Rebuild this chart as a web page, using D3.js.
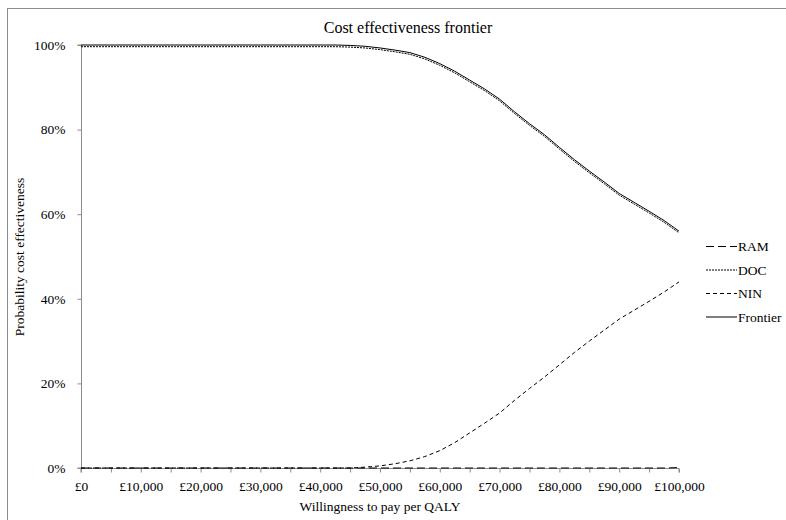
<!DOCTYPE html>
<html><head><meta charset="utf-8">
<script src="https://cdn.jsdelivr.net/npm/d3@7"></script>
<style>body{margin:0;background:#fff}svg{display:block}</style>
</head><body><svg id="c" width="786" height="520" font-family="Liberation Serif, Times New Roman, DejaVu Serif, serif"></svg>
<script>
const wtp = [0,5000,10000,15000,20000,25000,30000,35000,40000,42500,45000,47500,50000,52500,55000,57500,60000,62500,65000,67500,70000,72500,75000,77500,80000,82500,85000,87500,90000,92500,95000,97500,100000];
const ram = [0,0,0,0,0,0,0,0,0,0,0,0,0,0,0,0,0,0,0,0,0,0,0,0,0,0,0,0,0,0,0,0,0.1];
const nin = [0,0,0,0,0,0,0,0,0,0,0,0.2,0.5,1.0,1.7,2.7,4.1,6.0,8.3,10.6,13.0,16.0,18.8,21.5,24.4,27.3,30.0,32.6,35.2,37.3,39.4,41.6,44.0];
const frontier = [100,100,100,100,100,100,100,100,100,100,99.9,99.7,99.3,98.8,98.2,97.1,95.6,93.8,91.7,89.6,87.2,84.2,81.4,78.8,75.8,72.9,70.2,67.6,64.9,62.8,60.7,58.5,56.0];
const doc = [99.6,99.6,99.6,99.6,99.6,99.6,99.6,99.6,99.6,99.6,99.5,99.3,98.9,98.4,97.8,96.7,95.2,93.4,91.3,89.2,86.8,83.8,81.0,78.4,75.4,72.5,69.8,67.2,64.5,62.4,60.3,58.1,55.6];
const xTicks = [0,5000,10000,15000,20000,25000,30000,35000,40000,45000,50000,55000,60000,65000,70000,75000,80000,85000,90000,95000,100000];
const xLabels = [0,10000,20000,30000,40000,50000,60000,70000,80000,90000,100000];
const yTicks = [0,20,40,60,80,100];
const seriesNames = ["RAM","DOC","NIN","Frontier"];
const seriesDash = ["8,4","2,1","4,3",null];

const FONT = "Liberation Serif, Times New Roman, DejaVu Serif, serif";
const svg = d3.select("#c");
const L = 81, R = 679, T = 45, B = 468;
const x = d3.scaleLinear().domain([0,100000]).range([L,R]);
const y = d3.scaleLinear().domain([0,100]).range([B,T]);

svg.append("rect").attr("x",7.5).attr("y",8.5).attr("width",800).attr("height",600)
  .attr("fill","none").attr("stroke","#8c8c8c").attr("stroke-width",1);

svg.append("text").attr("x",408).attr("y",33).attr("text-anchor","middle").attr("font-family",FONT).attr("font-size",16).text("Cost effectiveness frontier");

// Y axis
const ya = svg.append("g").attr("transform",`translate(${L+0.5},0)`)
  .call(d3.axisLeft(y).tickValues(yTicks).tickSize(4).tickPadding(12).tickFormat(d => d + "%"));
ya.attr("font-family",FONT).attr("font-size",13.5);
ya.select(".domain").attr("stroke","#8c8c8c").attr("d",`M-4,${y(0)}H0V${y(100)}H-4`);
ya.selectAll(".tick line").attr("stroke","#8c8c8c");
ya.selectAll(".tick text").attr("fill","#000");

// X axis
const xa = svg.append("g").attr("transform",`translate(0,${B+0.5})`)
  .call(d3.axisBottom(x).tickValues(xTicks).tickSize(4).tickPadding(9).tickFormat(d => xLabels.includes(d) ? "£" + d3.format(",")(d) : ""));
xa.attr("font-family",FONT).attr("font-size",13.5);
xa.select(".domain").attr("stroke","#8c8c8c").attr("d",`M${x(0)},4V0H${x(100000)}V4`);
xa.selectAll(".tick line").attr("stroke","#8c8c8c");
xa.selectAll(".tick text").attr("fill","#000");

svg.append("text").attr("x",380).attr("y",511).attr("text-anchor","middle").attr("font-family",FONT).attr("font-size",13.5).text("Willingness to pay per QALY");
svg.append("text").attr("transform","translate(24,257) rotate(-90)").attr("text-anchor","middle").attr("font-family",FONT).attr("font-size",13.5).text("Probability cost effectiveness");

const line = d3.line().x((d,i) => x(wtp[i])).y(d => y(d));
const data = [ram, doc, nin, frontier];
data.forEach((s,i) => {
  const p = svg.append("path").attr("d", line(s)).attr("fill","none").attr("stroke","#000").attr("stroke-width",1);
  if (seriesDash[i]) p.attr("stroke-dasharray", seriesDash[i]);
});

// Legend
const lg = svg.append("g");
seriesNames.forEach((n,i) => {
  const yy = 246.5 + i*23.5;
  const l = lg.append("line").attr("x1",706).attr("x2",737).attr("y1",yy).attr("y2",yy).attr("stroke","#000").attr("stroke-width",1);
  if (seriesDash[i]) l.attr("stroke-dasharray", seriesDash[i]);
  lg.append("text").attr("x",738).attr("y",yy+4.5).attr("font-family",FONT).attr("font-size",13.5).text(n);
});
</script></body></html>
